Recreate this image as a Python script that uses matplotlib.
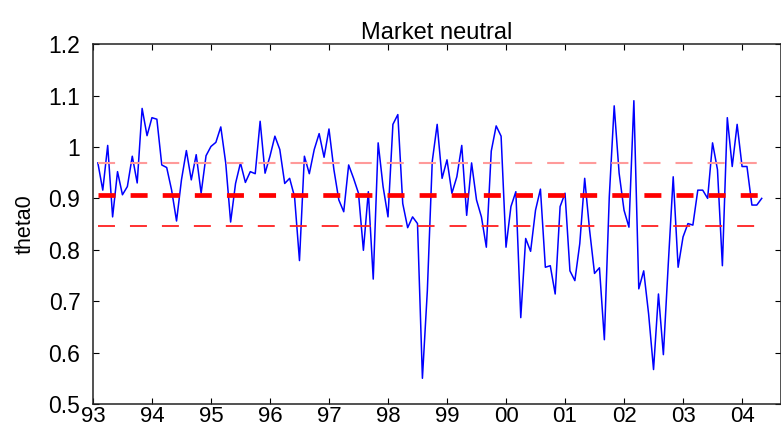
import numpy as np
import matplotlib
matplotlib.use("Agg")
import matplotlib.pyplot as plt

plt.rcParams["font.family"] = ["Liberation Sans", "DejaVu Sans"]

# monthly theta0 estimates, Feb 1993 .. May 2004
theta0 = [
    0.969, 0.916, 1.003, 0.864, 0.952, 0.907, 0.923, 0.982, 0.930, 1.075, 1.022, 1.057,
    1.054, 0.965, 0.960, 0.916, 0.856, 0.936, 0.993, 0.936, 0.985, 0.910, 0.983, 1.001,
    1.009, 1.039, 0.969, 0.854, 0.929, 0.969, 0.931, 0.952, 0.948, 1.050, 0.949, 0.982,
    1.021, 0.995, 0.929, 0.939, 0.903, 0.779, 0.982, 0.948, 0.995, 1.026, 0.980,
    1.035, 0.956, 0.897, 0.874, 0.965, 0.939, 0.910, 0.799, 0.913, 0.743, 1.008, 0.923,
    0.864, 1.044, 1.063, 0.890, 0.843, 0.864, 0.851, 0.550, 0.720, 0.972, 1.044, 0.939,
    0.975, 0.910, 0.942, 1.003, 0.867, 0.969, 0.897, 0.864, 0.805, 0.992, 1.041, 1.021,
    0.805, 0.884, 0.913, 0.668, 0.822, 0.797, 0.877, 0.918, 0.766,
    0.769, 0.714, 0.884, 0.910, 0.759, 0.740, 0.812, 0.939, 0.838, 0.754, 0.765, 0.625,
    0.903, 1.080, 0.949, 0.877, 0.844, 1.090, 0.724, 0.759, 0.675, 0.567, 0.714, 0.596,
    0.773, 0.942, 0.766, 0.825, 0.851, 0.848, 0.916, 0.916, 0.900, 1.008, 0.956, 0.769,
    1.057, 0.962, 1.044, 0.962, 0.962, 0.887, 0.887, 0.900,
]
start_year, start_month = 93, 2
mean_level = 0.907
upper_band = 0.969
lower_band = 0.846

xtick_years = list(range(93, 105))
xtick_labels = ["93", "94", "95", "96", "97", "98", "99", "00", "01", "02", "03", "04"]
yticks = [0.5, 0.6, 0.7, 0.8, 0.9, 1.0, 1.1, 1.2]
ytick_labels = ["0.5", "0.6", "0.7", "0.8", "0.9", "1", "1.1", "1.2"]

t = start_year + (start_month - 1 + np.arange(len(theta0))) / 12.0

fig = plt.figure(figsize=(7.81, 4.33), dpi=100)
ax = fig.add_axes([0.119, 0.067, 0.881, 0.831])

ax.plot(t, theta0, color="#0000ff", lw=1.1)
span = [t[0], t[-1]]
# dash lengths are in units of linewidth -> ~17 px on / 15 px off for all three
ax.plot(span, [upper_band] * 2, color="#ff9a9a", lw=1.5, dashes=(8.2, 7.2))
ax.plot(span, [lower_band] * 2, color="#ff2020", lw=1.3, dashes=(9.4, 8.3))
ax.plot(span, [mean_level] * 2, color="#ff0000", lw=3.4, dashes=(3.6, 3.2))

ax.set_xlim(93, 104.66)
ax.set_ylim(0.5, 1.2)
ax.set_xticks(xtick_years)
ax.set_xticklabels(xtick_labels)
ax.set_yticks(yticks)
ax.set_yticklabels(ytick_labels)
ax.tick_params(direction="in", top=True, right=True, length=4, width=0.8,
               labelsize=16.5)
ax.tick_params(axis="y", pad=9)
ax.tick_params(axis="x", pad=1.5, labelsize=16)
for s in ax.spines.values():
    s.set_linewidth(1.1)
    s.set_color("#222222")

ax.set_title("Market neutral", fontsize=17, pad=4)
ax.set_ylabel("theta0", fontsize=15.5, labelpad=9)

fig.savefig("out.png", dpi=100)
